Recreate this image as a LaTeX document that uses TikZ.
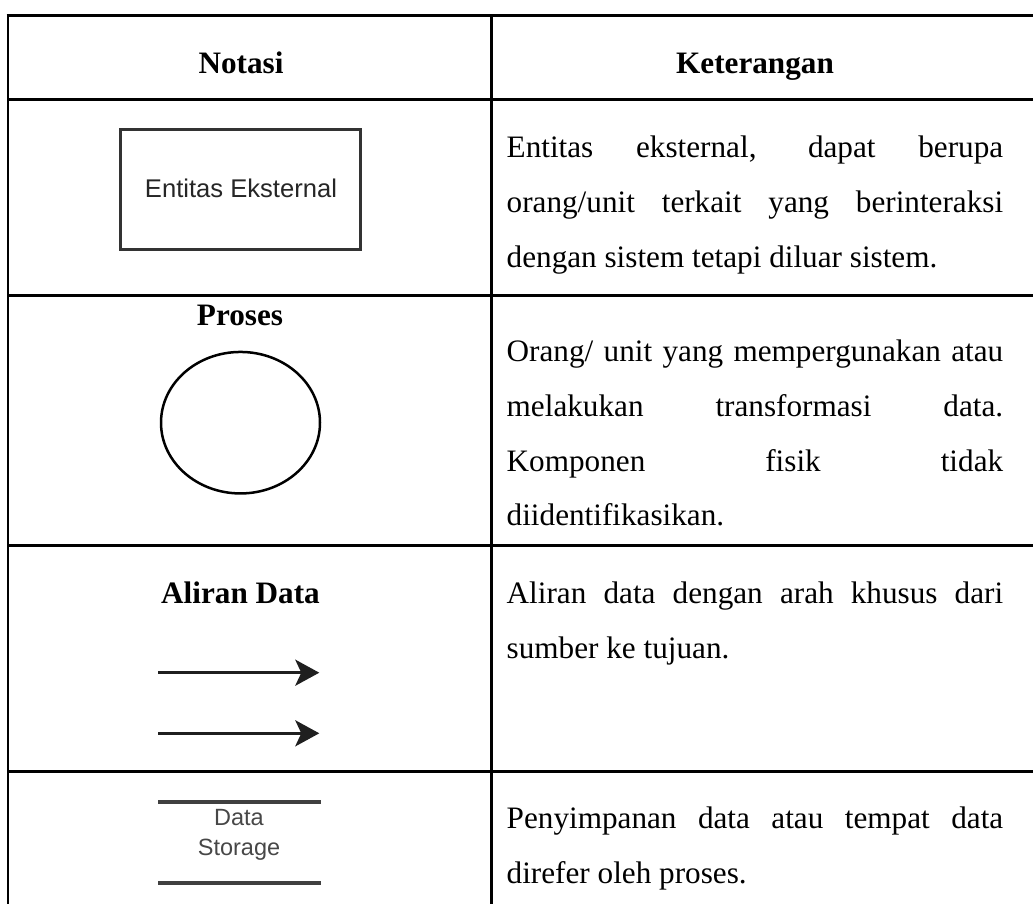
\documentclass[tikz,border=0pt]{standalone}
\usepackage{fontspec}
\setmainfont{Liberation Serif}
\newfontfamily\arialf{Liberation Sans}
\usetikzlibrary{shapes.geometric,arrows.meta}
\hyphenpenalty=10000
\hbadness=10000
\begin{document}
\begin{tikzpicture}[x=1pt,y=-1pt,
  rule/.style={line width=2.8pt,black},
  headtxt/.style={anchor=base,inner sep=0pt,font=\fontsize{31.2}{37}\selectfont\bfseries},
  bodytxt/.style={anchor=base west,inner sep=0pt,text width=496.5pt,align=justify,
     font=\fontsize{31.2}{54.7}\selectfont},
  entbox/.style={draw=black!80,line width=3pt,minimum width=240pt,minimum height=119pt,
     inner sep=0pt},
  enttext/.style={anchor=base,inner sep=0pt,font=\arialf\fontsize{25.6}{30}\selectfont,text=black!85},
  procshape/.style={draw=black,line width=2.5pt,ellipse,minimum width=159pt,
     minimum height=141.5pt,inner sep=0pt},
  flowarrow/.style={line width=3.2pt,draw=black!88,
     -{Stealth[length=24pt,width=26pt,inset=6pt]}},
  storeline/.style={line width=4pt,draw=black!75},
  storetxt/.style={anchor=base,inner sep=0pt,align=center,
     font=\arialf\fontsize{23.5}{30}\selectfont,text=black!72}]
\useasboundingbox (0,0) rectangle (1033,904);
% table rules
\draw[rule] (6.6,15.8) -- (1033,15.8);
\draw[rule] (8,14.4) -- (8,904);
\draw[rule] (491.3,15.8) -- (491.3,904);
\draw[rule] (8,99.8) -- (1033,99.8);
\draw[rule] (8,295.3) -- (1033,295.3);
\draw[rule] (8,545.2) -- (1033,545.2);
\draw[rule] (8,771.7) -- (1033,771.7);
% headers
\node[headtxt] (hnot) at (241,74) {Notasi};
\node[headtxt] (hket) at (755,74) {Keterangan};
% row 1
\node[entbox] (ent) at (240,189.5) {};
\node[enttext] (enttxt) at (241,198) {Entitas Eksternal};
\node[bodytxt] (d1) at (506.5,157.8) {Entitas eksternal, dapat berupa\linebreak orang/unit terkait yang berinteraksi\linebreak dengan sistem tetapi diluar sistem.};
% row 2
\node[headtxt] (hpro) at (240,325) {Proses};
\node[procshape] (proc) at (240.5,422.7) {};
\node[bodytxt] (d2) at (506.5,361.7) {Orang/ unit yang mempergunakan atau\linebreak melakukan transformasi data.\linebreak Komponen fisik tidak\linebreak diidentifikasikan.};
% row 3
\node[headtxt] (hali) at (240.5,603) {Aliran Data};
\coordinate (a1s) at (158.3,672.7);
\coordinate (a1e) at (319.3,672.7);
\coordinate (a2s) at (158.3,733.3);
\coordinate (a2e) at (319.3,733.3);
\draw[flowarrow] (a1s) -- (a1e);
\draw[flowarrow] (a2s) -- (a2e);
\node[bodytxt] (d3) at (506.5,603.3) {Aliran data dengan arah khusus dari\linebreak sumber ke tujuan.};
% row 4
\coordinate (s1s) at (158.3,801.7);
\coordinate (s1e) at (320.7,801.7);
\coordinate (s2s) at (158.3,882.7);
\coordinate (s2e) at (320.7,882.7);
\draw[storeline] (s1s) -- (s1e);
\draw[storeline] (s2s) -- (s2e);
\node[storetxt] (stxt) at (239,855.3) {Data\\Storage};
\node[bodytxt] (d4) at (506.5,828.3) {Penyimpanan data atau tempat data\linebreak direfer oleh proses.};
\end{tikzpicture}
\end{document}
